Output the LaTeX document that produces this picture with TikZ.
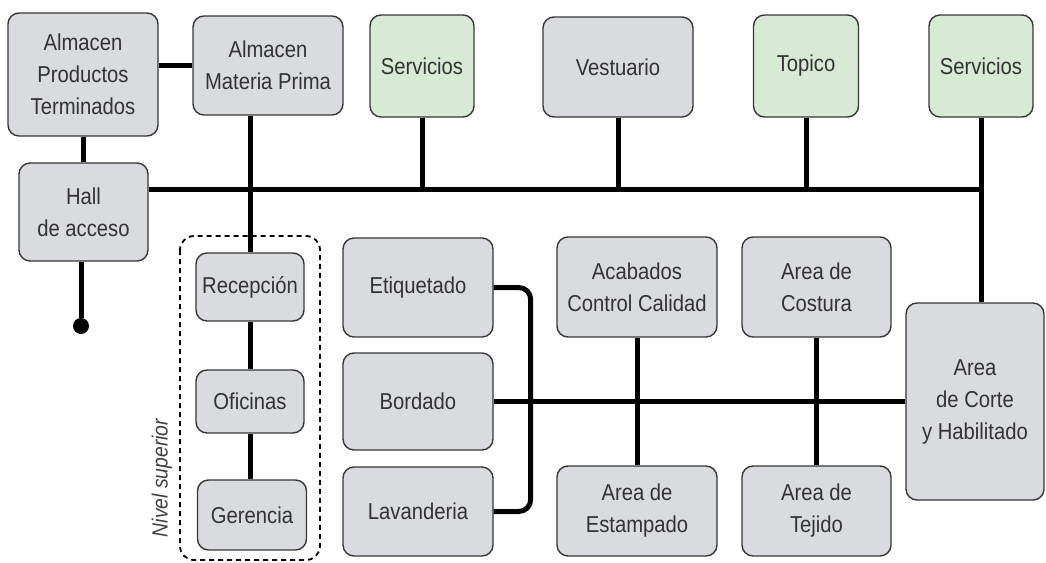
\documentclass[tikz,border=0pt]{standalone}
\usepackage{fontspec}
\setmainfont{Liberation Sans}[FakeStretch=0.88]
\usepackage{tikz}
\usetikzlibrary{positioning, calc}
\definecolor{grisarea}{RGB}{218, 219, 223}
\definecolor{verdeserv}{RGB}{214, 234, 212}
\definecolor{bordearea}{RGB}{55, 55, 55}

\begin{document}
\begin{tikzpicture}[
    x=1pt, y=-1pt,
    area/.style={draw=bordearea, line width=1.4pt, rounded corners=11pt, fill=grisarea, align=center, text=black!80, inner sep=0pt, font=\fontsize{23}{32}\selectfont},
    serv/.style={area, fill=verdeserv},
    enlace/.style={line width=5pt, black}
]
    \useasboundingbox (0,0) rectangle (1046,562);

    % fila superior
    \node[area, minimum width=150pt, minimum height=123pt] (apt) at (83,74.5) {Almacen\\Productos\\Terminados};
    \node[area, minimum width=150pt, minimum height=99pt] (amp) at (268,65.5) {Almacen\\Materia Prima};
    \node[serv, minimum width=104pt, minimum height=102pt] (serv1) at (422,66) {Servicios};
    \node[area, minimum width=150pt, minimum height=100pt] (vest) at (618,67) {Vestuario};
    \node[serv, minimum width=105pt, minimum height=102pt] (topico) at (806,66) {Topico};
    \node[serv, minimum width=104pt, minimum height=102pt] (serv2) at (981,66) {Servicios};

    \node[area, minimum width=129pt, minimum height=98pt] (hall) at (83.5,212) {Hall\\de acceso};
    \node[circle, fill=black, inner sep=0pt, minimum size=16pt] (punto) at (81,326) {};

    % nivel superior
    \node[area, minimum width=108pt, minimum height=68pt] (recep) at (250,287) {Recepción};
    \node[area, minimum width=108pt, minimum height=63pt] (ofic) at (250,401.5) {Oficinas};
    \node[area, minimum width=109pt, minimum height=70pt] (ger) at (252,515) {Gerencia};
    \draw[line width=1.8pt, dash pattern=on 5pt off 4pt, rounded corners=14pt] (180,236) rectangle (320,560);
    \node[rotate=90, text=black!75, font=\itshape\fontsize{22}{22}\selectfont] (nivel) at (162,478) {Nivel superior};

    % produccion
    \node[area, minimum width=150pt, minimum height=99pt] (etiq) at (418,287.5) {Etiquetado};
    \node[area, minimum width=150pt, minimum height=97pt] (bord) at (418,401.5) {Bordado};
    \node[area, minimum width=150pt, minimum height=89pt] (lav) at (418,511.5) {Lavanderia};
    \node[area, minimum width=160pt, minimum height=100pt] (acab) at (637,287) {Acabados\\Control Calidad};
    \node[area, minimum width=149pt, minimum height=100pt] (cost) at (816.5,287) {Area de\\Costura};
    \node[area, minimum width=160pt, minimum height=90pt] (estam) at (637,511) {Area de\\Estampado};
    \node[area, minimum width=149pt, minimum height=90pt] (tej) at (816.5,511) {Area de\\Tejido};
    \node[area, minimum width=138pt, minimum height=197pt] (corte) at (975,401.5) {Area\\de Corte\\y Habilitado};

    \coordinate (busR) at (981,189);

    % enlaces
    \draw[enlace] (amp.west) -- (amp.west -| apt.east);
    \draw[enlace] (apt.south) -- (apt.south |- hall.north);
    \draw[enlace] (hall.east |- busR) -- (busR) -- (busR |- corte.north);
    \draw[enlace] (serv1.south) -- (serv1.south |- busR);
    \draw[enlace] (vest.south) -- (vest.south |- busR);
    \draw[enlace] (topico.south) -- (topico.south |- busR);
    \draw[enlace] (serv2.south) -- (busR);
    \draw[enlace] (punto) -- (punto |- hall.south);
    \draw[enlace] (recep.north) -- (recep.north |- amp.south);
    \draw[enlace] (recep) -- (ofic) -- (ofic |- ger.north);
    \draw[enlace, rounded corners=12pt] (etiq.east) -- ++(37,0) |- (lav.east);
    \draw[enlace] (bord.east) -- (corte.west);
    \draw[enlace] (acab) -- (estam);
    \draw[enlace] (cost) -- (tej);

\end{tikzpicture}
\end{document}
